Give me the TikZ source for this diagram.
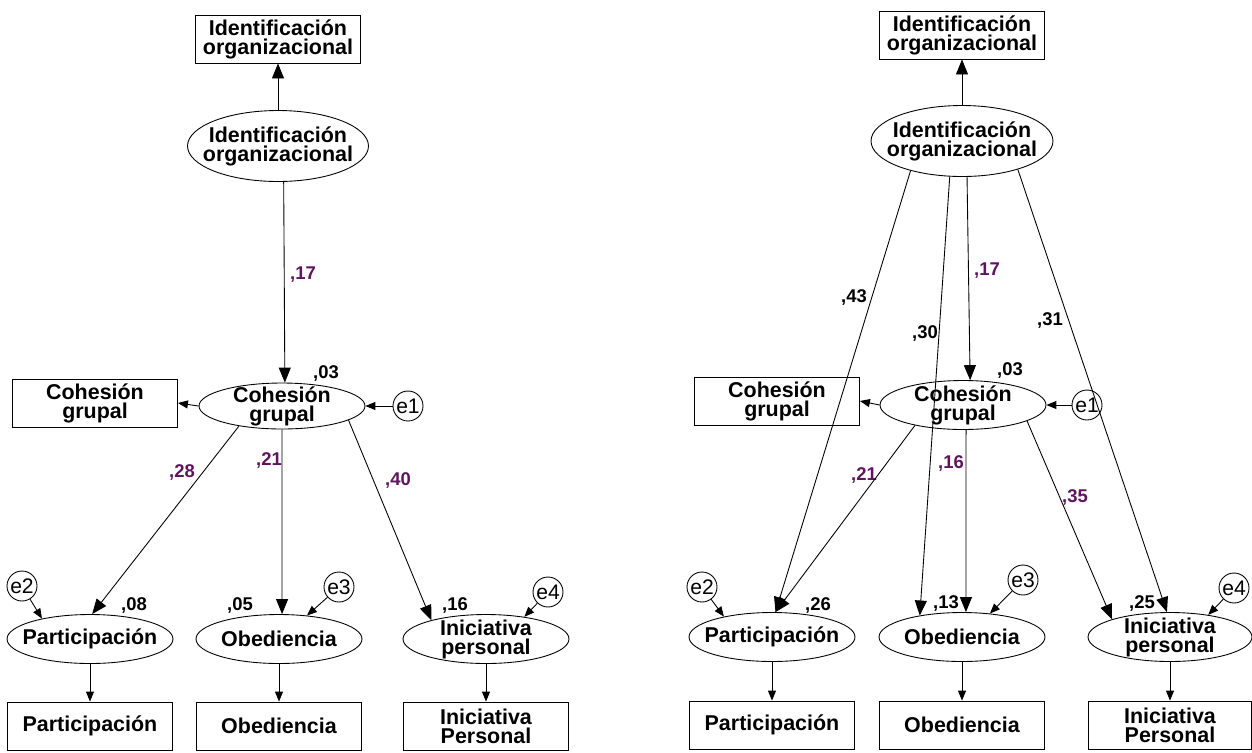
\documentclass[tikz,border=0pt]{standalone}
\usepackage{fontspec}
\setmainfont{Liberation Sans}
\usetikzlibrary{arrows.meta,shapes}
\definecolor{coefpurple}{RGB}{96,20,96}

\begin{document}
\begin{tikzpicture}[x=0.02cm, y=-0.02cm, line width=0.5pt]
\tikzstyle{obs}=[rectangle, draw, align=center, inner sep=1pt,
                 minimum width=3.3cm, minimum height=0.96cm, font=\bfseries\fontsize{12.2}{10.8}\selectfont]
\tikzstyle{lat}=[ellipse, draw, align=center, inner xsep=-0.5cm, inner ysep=-0.2cm,
                 minimum width=3.32cm, minimum height=0.98cm, font=\bfseries\fontsize{12.2}{10.8}\selectfont]
\tikzstyle{err}=[circle, draw, inner sep=0pt, minimum size=0.6cm, font=\fontsize{12}{12}\selectfont]
\tikzstyle{coef}=[inner sep=0pt, font=\bfseries\fontsize{10.5}{10.5}\selectfont]
\tikzstyle{wgt}=[coef, text=coefpurple]
\tikzstyle{big}=[-{Triangle[length=0.3cm,width=0.24cm]}]
\tikzstyle{small}=[-{Triangle[length=0.2cm,width=0.16cm]}]
\useasboundingbox (0,0) rectangle (1252,752);
% modelo 1
\node[obs] (bIdL) at (278,39) {Identificación\\organizacional};
\node[lat, minimum width=3.62cm, minimum height=1.42cm] (IdL) at (278,146) {Identificación\\organizacional};
\node[lat, minimum height=0.92cm] (CohL) at (282,406) {Cohesión\\grupal};
\node[obs] (bCohL) at (95,403) {Cohesión\\grupal};
\node[err] (e1L) at (408,406) {e1};
\node[lat] (PartL) at (90,639) {Participación};
\node[lat] (ObeL) at (279,639) {Obediencia};
\node[lat] (IniL) at (486,639) {Iniciativa\\personal};
\node[obs] (bPartL) at (90,726) {Participación};
\node[obs] (bObeL) at (279,726) {Obediencia};
\node[obs] (bIniL) at (486,726) {Iniciativa\\Personal};
\node[err] (e2L) at (22,586) {e2};
\node[err] (e3L) at (339,587) {e3};
\node[err] (e4L) at (548,592) {e4};
\node[coef] (r2CohL) at (326,373) {,03};
\node[coef] (r2PartL) at (134,605) {,08};
\node[coef] (r2ObeL) at (240,605) {,05};
\node[coef] (r2IniL) at (455,605) {,16};
\node[wgt] (wIdCohL) at (303,275) {,17};
\node[wgt] (wCohPartL) at (182,472) {,28};
\node[wgt] (wCohObeL) at (269,460) {,21};
\node[wgt] (wCohIniL) at (398,480) {,40};
% modelo 2
\node[obs] (bIdR) at (962,35) {Identificación\\organizacional};
\node[lat, minimum width=3.64cm, minimum height=1.42cm] (IdR) at (962,141) {Identificación\\organizacional};
\node[lat] (CohR) at (963,405) {Cohesión\\grupal};
\node[obs] (bCohR) at (777,401) {Cohesión\\grupal};
\node[err] (e1R) at (1087,405) {e1};
\node[lat] (PartR) at (772,637) {Participación};
\node[lat] (ObeR) at (962,637) {Obediencia};
\node[lat, minimum width=3.28cm] (IniR) at (1170,637) {Iniciativa\\personal};
\node[obs] (bPartR) at (772,725) {Participación};
\node[obs] (bObeR) at (962,725) {Obediencia};
\node[obs, minimum width=3.26cm] (bIniR) at (1170,725) {Iniciativa\\Personal};
\node[err] (e2R) at (702,587) {e2};
\node[err] (e3R) at (1023,580) {e3};
\node[err] (e4R) at (1234,588) {e4};
\node[coef] (r2CohR) at (1010,370) {,03};
\node[coef] (r2PartR) at (818,605) {,26};
\node[coef] (r2ObeR) at (946,603) {,13};
\node[coef] (r2IniR) at (1142,603) {,25};
\node[coef] (wIdPartR) at (854,297) {,43};
\node[coef] (wIdObeR) at (925,333) {,30};
\node[wgt] (wIdCohR) at (987,271) {,17};
\node[coef] (wIdIniR) at (1050,320) {,31};
\node[wgt] (wCohPartR) at (864,475) {,21};
\node[wgt] (wCohObeR) at (951,463) {,16};
\node[wgt] (wCohIniR) at (1075,497) {,35};
% trayectorias
\foreach \i/\j in {IdL.north/bIdL.south, IdL.-81/CohL.83, CohL.205/PartL.85, CohL.south/ObeL.83, CohL.-12/IniL.161,
                   IdR.north/bIdR.south, IdR.210/PartR.82, CohR.203/PartR.82, IdR.251/ObeR.153, CohR.-83/ObeR.81,
                   IdR.278/CohR.74, IdR.-27/IniR.97, CohR.-14/IniR.163}{\draw[big] (\i) -- (\j);}
\foreach \i/\j in {CohL.west/bCohL.east, e1L/CohL.east, e2L/PartL.157, e3L/ObeL.40, e4L/IniL.30,
                   PartL.south/bPartL.north, ObeL.south/bObeL.north, IniL.south/bIniL.north,
                   CohR.west/bCohR.east, e1R/CohR.east, e2R/PartR.157, e3R/ObeR.40, e4R/IniR.30,
                   PartR.south/bPartR.north, ObeR.south/bObeR.north, IniR.south/bIniR.north}{\draw[small] (\i) -- (\j);}
\end{tikzpicture}
\end{document}
